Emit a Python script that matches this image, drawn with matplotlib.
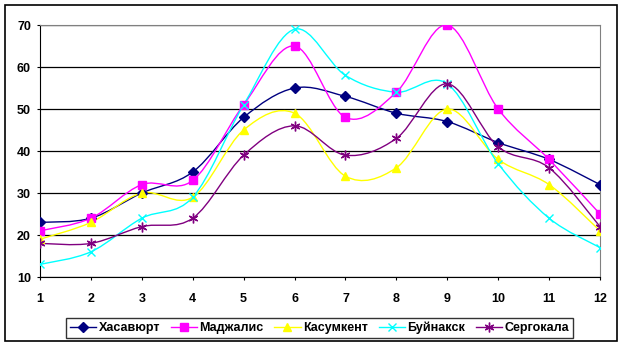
import matplotlib.pyplot as plt
from matplotlib.path import Path
from matplotlib.patches import PathPatch, Rectangle
from matplotlib.lines import Line2D

plt.rcParams['font.family'] = ['Liberation Sans', 'DejaVu Sans']

months = [1, 2, 3, 4, 5, 6, 7, 8, 9, 10, 11, 12]
names = ['Хасавюрт', 'Маджалис', 'Касумкент', 'Буйнакск', 'Сергокала']
khasavyurt = [23, 24, 30, 35, 48, 55, 53, 49, 47, 42, 38, 32]
madzhalis = [21, 24, 32, 33, 51, 65, 48, 54, 70, 50, 38, 25]
kasumkent = [19, 23, 30, 29, 45, 49, 34, 36, 50, 38, 32, 21]
buynaksk = [13, 16, 24, 29, 51, 69, 58, 54, 56, 37, 24, 17]
sergokala = [18, 18, 22, 24, 39, 46, 39, 43, 56, 41, 36, 22]
series = [khasavyurt, madzhalis, kasumkent, buynaksk, sergokala]

colors = ['#000080', '#FF00FF', '#FFFF00', '#00FFFF', '#800080']
markers = ['D', 's', '^', 'x', (6, 2, 0)]
msizes = [5, 6, 6, 6, 7]


def smooth_path(x, y):
    # Excel-like smoothed line: Bezier segments (Catmull-Rom control points)
    pts = list(zip(x, y))
    verts = [pts[0]]
    codes = [Path.MOVETO]
    n = len(pts)
    for i in range(n - 1):
        p0 = pts[i - 1] if i > 0 else pts[i]
        p1 = pts[i]
        p2 = pts[i + 1]
        p3 = pts[i + 2] if i + 2 < n else pts[i + 1]
        c1 = (p1[0] + (p2[0] - p0[0]) / 6, p1[1] + (p2[1] - p0[1]) / 6)
        c2 = (p2[0] - (p3[0] - p1[0]) / 6, p2[1] - (p3[1] - p1[1]) / 6)
        verts += [c1, c2, p2]
        codes += [Path.CURVE4] * 3
    return Path(verts, codes)


fig = plt.figure(figsize=(6.23, 3.46), dpi=100)
ax = fig.add_axes([40 / 623, 1 - 277 / 346, 560 / 623, 252 / 346])

handles = []
for vals, name, c, m, ms in zip(series, names, colors, markers, msizes):
    ax.add_patch(PathPatch(smooth_path(months, vals), fill=False,
                           edgecolor=c, lw=1, zorder=3))
    ax.plot(months, vals, ls='none', marker=m, ms=ms, color=c,
            mec=c, mew=1, zorder=4)
    handles.append(Line2D([], [], color=c, lw=1, marker=m, ms=ms,
                          mec=c, mew=1, label=name))

ax.set_xlim(1, 12)
ax.set_ylim(10, 70)
ax.set_xticks(months)
ax.set_yticks(range(10, 71, 10))
ax.yaxis.grid(True, color='black', lw=0.9)
ax.set_axisbelow(True)
for s in ['top', 'right']:
    ax.spines[s].set_color('#808080')
for s in ['left', 'bottom']:
    ax.spines[s].set_color('black')
ax.tick_params(axis='both', direction='out', length=2.2, width=0.8,
               labelsize=9)
ax.tick_params(axis='x', pad=9.4)
ax.tick_params(axis='y', pad=4.3)
for lbl in ax.get_xticklabels() + ax.get_yticklabels():
    lbl.set_fontweight('bold')

leg = fig.legend(handles=handles, loc='center', ncol=5,
                 bbox_to_anchor=(319.5 / 623, 1 - 327.7 / 346),
                 frameon=True, fancybox=False, edgecolor='black',
                 prop={'size': 9, 'weight': 'bold'}, handlelength=2.1,
                 handletextpad=0.2, columnspacing=0.85, borderpad=0.3,
                 borderaxespad=0)
leg.get_frame().set_linewidth(1)

fig.patches.append(Rectangle((5 / 623, 5 / 346), 612 / 623, 336 / 346,
                             transform=fig.transFigure, fill=False,
                             edgecolor='black', lw=1.2))

fig.savefig('out.png', dpi=100)
